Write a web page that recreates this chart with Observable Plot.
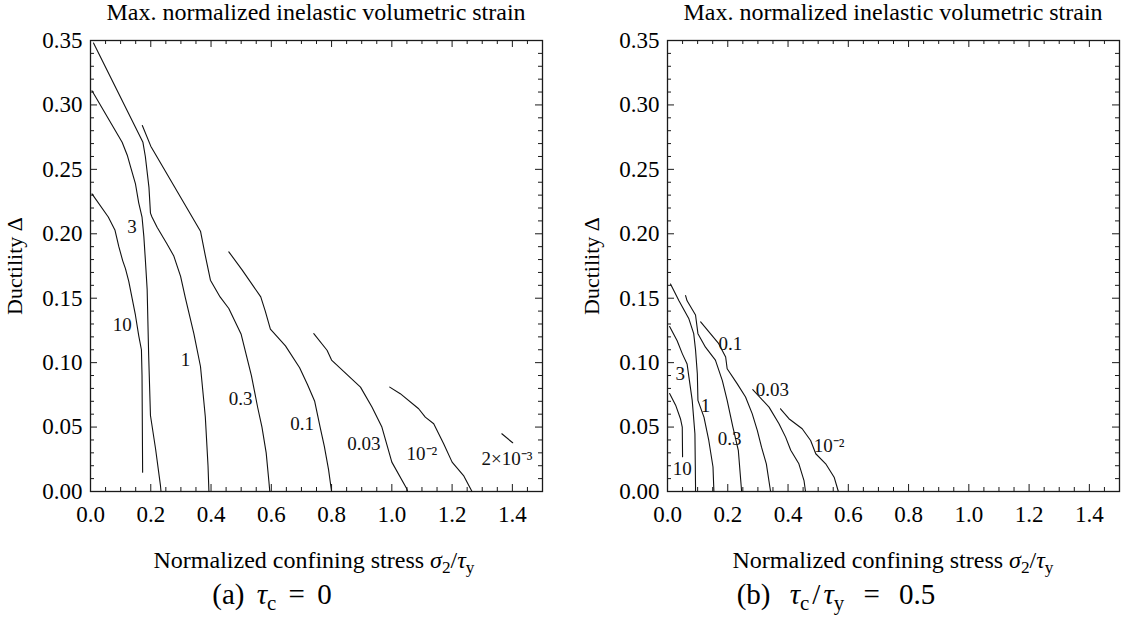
<!DOCTYPE html>
<html>
<head>
<meta charset="utf-8">
<script src="https://cdn.jsdelivr.net/npm/d3@7"></script>
<script src="https://cdn.jsdelivr.net/npm/@observablehq/plot@0.6"></script>
<style>
  body { margin: 0; background: #fff; }
  #wrap { position: relative; width: 1122px; height: 619px; overflow: hidden; font-family: "Liberation Serif", "Times New Roman", Times, serif; color: #000; background: #fff; }
  .panel { position: absolute; top: 0; }
  .txt { position: absolute; white-space: nowrap; transform: translateX(-50%); line-height: 1.15; }
  .title { font-size: 24px; top: 0px; line-height: 1; }
  .xlab { font-size: 24px; top: 547px; }
  .cap { font-size: 29px; top: 578px; }
  .capa { word-spacing: 5px; }
  .capb { word-spacing: 12px; }
  .sl { margin: 0 3px; }
  sub { font-size: 0.72em; vertical-align: -0.28em; line-height: 0; }
</style>
</head>
<body>
<div id="wrap">
  <div id="pa" class="panel" style="left:0px"></div>
  <div id="pb" class="panel" style="left:577px"></div>
  <div class="txt title" style="left:316px">Max. normalized inelastic volumetric strain</div>
  <div class="txt title" style="left:893px">Max. normalized inelastic volumetric strain</div>
  <div class="txt xlab" style="left:314px">Normalized confining stress <i>σ</i><sub>2</sub>/<i>τ</i><sub>y</sub></div>
  <div class="txt xlab" style="left:893px">Normalized confining stress <i>σ</i><sub>2</sub>/<i>τ</i><sub>y</sub></div>
  <div class="txt cap capa" style="left:272px">(a) <i>τ</i><sub>c</sub> = 0</div>
  <div class="txt cap capb" style="left:836px">(b) <i>τ</i><sub>c</sub><span class="sl">/</span><i>τ</i><sub>y</sub> = 0.5</div>
</div>
<script>
const FONT = '"Liberation Serif", "Times New Roman", Times, serif';
// ---- tick labels ----
const xTickValues = [0, 0.2, 0.4, 0.6, 0.8, 1.0, 1.2, 1.4];
const yTickValues = [0, 0.05, 0.10, 0.15, 0.20, 0.25, 0.30, 0.35];

// ---- panel (a): tau_c = 0, contour lines [x, y] ----
const a10   = [[0.005,0.231],[0.059,0.213],[0.081,0.203],[0.094,0.19],[0.107,0.179],[0.116,0.173],[0.127,0.163],[0.138,0.150],[0.149,0.137],[0.160,0.121],[0.169,0.110],[0.171,0.09],[0.173,0.015]];
const a3    = [[0.005,0.311],[0.105,0.271],[0.122,0.261],[0.133,0.252],[0.149,0.239],[0.160,0.224],[0.171,0.213],[0.177,0.198],[0.182,0.18],[0.188,0.157],[0.193,0.106],[0.199,0.059],[0.216,0.033],[0.232,0.005],[0.234,0]];
const a1    = [[0.01,0.348],[0.174,0.271],[0.182,0.26],[0.194,0.236],[0.199,0.216],[0.204,0.213],[0.221,0.205],[0.254,0.192],[0.276,0.183],[0.299,0.167],[0.315,0.150],[0.343,0.1225],[0.365,0.097],[0.381,0.058],[0.390,0.02],[0.393,0]];
const a03   = [[0.172,0.284],[0.2,0.268],[0.365,0.202],[0.381,0.183],[0.398,0.164],[0.43,0.151],[0.459,0.142],[0.5,0.122],[0.534,0.09],[0.555,0.065],[0.569,0.05],[0.583,0.03],[0.592,0.008],[0.595,0]];
const a01   = [[0.459,0.186],[0.503,0.172],[0.565,0.151],[0.58,0.14],[0.597,0.126],[0.647,0.113],[0.694,0.096],[0.72,0.083],[0.744,0.07],[0.762,0.05],[0.776,0.035],[0.79,0.017],[0.80,0]];
const a003  = [[0.741,0.1225],[0.785,0.1096],[0.80,0.102],[0.896,0.081],[0.934,0.0655],[0.967,0.05],[1.0,0.0228],[1.05,0.002],[1.052,0]];
const a001  = [[0.993,0.081],[1.028,0.0759],[1.089,0.0642],[1.111,0.0577],[1.139,0.0526],[1.172,0.037],[1.2,0.0228],[1.238,0.0124],[1.266,0]];
const a0002 = [[1.365,0.0448],[1.401,0.0378]];
const aLabels = [
  {x:0.138, y:0.205, t:"3"}, {x:0.105, y:0.129, t:"10"}, {x:0.315, y:0.102, t:"1"},
  {x:0.498, y:0.072, t:"0.3"}, {x:0.702, y:0.0526, t:"0.1"}, {x:0.907, y:0.037, t:"0.03"},
  {x:1.10, y:0.029, t:"10⁻²"}, {x:1.382, y:0.025, t:"2×10⁻³"}
];

// ---- panel (b): tau_c / tau_y = 0.5 ----
const b10   = [[0.007,0.076],[0.027,0.067],[0.043,0.0565],[0.049,0.05],[0.05,0.027]];
const b3    = [[0.007,0.128],[0.032,0.117],[0.049,0.107],[0.065,0.099],[0.071,0.089],[0.082,0.0707],[0.091,0.0448],[0.093,0.005],[0.093,0]];
const b1    = [[0.01,0.161],[0.038,0.148],[0.071,0.134],[0.087,0.1225],[0.093,0.11],[0.099,0.0914],[0.101,0.0707],[0.121,0.0577],[0.137,0.0396],[0.151,0.019],[0.154,0]];
const b03   = [[0.06,0.152],[0.065,0.148],[0.093,0.137],[0.101,0.1225],[0.126,0.112],[0.159,0.102],[0.182,0.086],[0.198,0.0707],[0.217,0.05],[0.235,0.032],[0.246,0]];
const b01   = [[0.11,0.1316],[0.17,0.1147],[0.193,0.1044],[0.198,0.0953],[0.231,0.0837],[0.259,0.0733],[0.281,0.0604],[0.298,0.0474],[0.312,0.0344],[0.328,0.0215],[0.342,0]];
const b003  = [[0.283,0.079],[0.337,0.0655],[0.37,0.0526],[0.392,0.0422],[0.409,0.032],[0.436,0.0215],[0.453,0.0085],[0.458,0]];
const b001  = [[0.375,0.0642],[0.403,0.0565],[0.447,0.0487],[0.475,0.0396],[0.492,0.0293],[0.525,0.0215],[0.553,0.0111],[0.567,0]];
const bLabels = [
  {x:0.049, y:0.0176, t:"10"}, {x:0.042, y:0.0914, t:"3"}, {x:0.126, y:0.0668, t:"1"},
  {x:0.206, y:0.041, t:"0.3"}, {x:0.209, y:0.1147, t:"0.1"}, {x:0.348, y:0.0785, t:"0.03"},
  {x:0.536, y:0.0357, t:"10⁻²"}
];

function toRows(curves) {
  return curves.flatMap(([level, pts]) => pts.map(([x, y]) => ({level, x, y})));
}

const xMinor = d3.range(0, 1.5001, 0.05).map(v => +v.toFixed(2));
const yMinor = d3.range(0, 0.3501, 0.01).map(v => +v.toFixed(2));

function panel(rows, labels, width, marginRight) {
  const height = 530, mt = 40, mb = 39, ml = 90;
  const fw = width - ml - marginRight, fh = height - mt - mb;
  const ink = "#1a1a1a";
  const isMajX = v => xTickValues.some(t => Math.abs(t - v) < 1e-6);
  const isMajY = v => yTickValues.some(t => Math.abs(t - v) < 1e-6);
  const xs = xMinor.map(v => ({v, L: isMajX(v) ? 7 : 4}));
  const ys = yMinor.map(v => ({v, L: isMajY(v) ? 7 : 4}));
  const tickMarks = [];
  for (const d of xs) {
    tickMarks.push(Plot.tickX([d], {x: "v", insetTop: fh - d.L, stroke: ink, strokeWidth: 1}));
    tickMarks.push(Plot.tickX([d], {x: "v", insetBottom: fh - d.L, stroke: ink, strokeWidth: 1}));
  }
  for (const d of ys) {
    tickMarks.push(Plot.tickY([d], {y: "v", insetRight: fw - d.L, stroke: ink, strokeWidth: 1}));
    tickMarks.push(Plot.tickY([d], {y: "v", insetLeft: fw - d.L, stroke: ink, strokeWidth: 1}));
  }
  return Plot.plot({
    width, height, marginLeft: ml, marginRight, marginTop: mt, marginBottom: mb,
    x: {domain: [0, 1.5]},
    y: {domain: [0, 0.35]},
    style: {fontFamily: FONT, fontSize: "23px", background: "white", color: "black", overflow: "visible"},
    marks: [
      ...tickMarks,
      Plot.frame({stroke: ink, strokeWidth: 1.3}),
      Plot.axisX({ticks: xTickValues, tickSize: 0, tickPadding: 14, tickFormat: d3.format(".1f"), label: null, fontSize: 23}),
      Plot.axisY({ticks: yTickValues, tickSize: 0, tickPadding: 8, tickFormat: d3.format(".2f"), label: null, fontSize: 23}),
      Plot.line(rows, {x: "x", y: "y", z: "level", stroke: "#111", strokeWidth: 1.1, curve: "linear"}),
      Plot.text(labels, {x: "x", y: "y", text: "t", fontSize: 19, fill: "#111"}),
      Plot.text(["Ductility Δ"], {text: d => d, frameAnchor: "left", textAnchor: "middle", dx: -76, rotate: -90, fontSize: 22})
    ]
  });
}

const rowsA = toRows([["10", a10], ["3", a3], ["1", a1], ["0.3", a03], ["0.1", a01], ["0.03", a003], ["0.01", a001], ["0.002", a0002]]);
const rowsB = toRows([["10", b10], ["3", b3], ["1", b1], ["0.3", b03], ["0.1", b01], ["0.03", b003], ["0.01", b001]]);

document.getElementById("pa").appendChild(panel(rowsA, aLabels, 560, 18));
document.getElementById("pb").appendChild(panel(rowsB, bLabels, 545, 3));
</script>
</body>
</html>
